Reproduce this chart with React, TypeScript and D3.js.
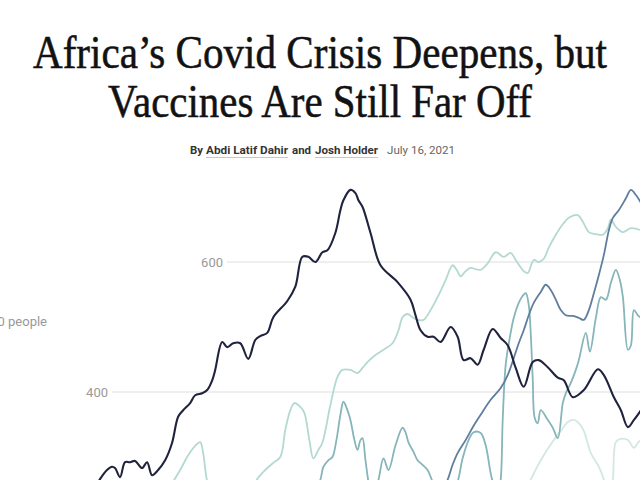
import React from "react";
import * as d3 from "d3";

// Headline and byline
const titleLines = ["Africa’s Covid Crisis Deepens, but", "Vaccines Are Still Far Off"];
const byline = { by: "By", authorA: "Abdi Latif Dahir", and: "and", authorB: "Josh Holder", date: "July 16, 2021" };

// Axis
const yTicks = [400, 600];
const yAxisLabel = "New cases per 1,000,000 people";

// Series: [days since 2020-02-01, value]
const seriesDark: [number, number][] = [
  [-6, 250], [0, 266], [7, 280], [12, 285], [15, 283], [20, 269], [25, 292], [30, 292], [35, 294],
  [42, 283], [47, 292], [52, 272], [58, 280], [65, 295], [72, 322], [78, 362], [83, 372], [90, 383],
  [95, 395], [102, 398], [107, 403], [112, 418], [115, 434], [122, 477], [127, 469], [133, 475],
  [140, 475], [148, 451], [155, 480], [160, 486], [167, 491], [173, 515], [187, 540], [195, 562],
  [202, 608], [208, 608], [215, 600], [222, 615], [227, 618], [235, 645], [240, 680], [243, 695],
  [250, 711], [255, 706], [258, 695], [262, 685], [270, 645], [280, 595], [297, 569], [310, 542],
  [315, 518], [320, 495], [327, 485], [333, 485], [340, 477], [350, 500], [357, 485], [363, 449],
  [370, 452], [377, 442], [383, 465], [392, 497], [400, 483], [407, 472], [415, 437], [423, 408],
  [432, 446], [438, 449], [447, 438], [457, 422], [463, 418], [472, 392], [483, 403], [497, 435],
  [503, 426], [513, 392], [520, 372], [527, 346], [533, 357], [540, 372],
];

const seriesLight: [number, number][] = [
  [60, 230], [80, 280], [87, 300], [95, 317], [100, 323], [103, 306], [107, 262], [115, 225],
  [135, 215], [150, 245], [157, 266], [165, 280], [173, 291], [180, 300], [185, 342], [190, 372],
  [194, 383], [200, 377], [204, 368], [209, 326], [213, 298], [218, 311], [222, 322], [230, 380],
  [237, 423], [242, 434], [250, 434], [257, 429], [262, 437], [267, 446], [275, 457], [283, 465],
  [292, 475], [298, 495], [302, 515], [307, 520], [312, 515], [317, 511], [323, 511], [330, 526],
  [337, 546], [345, 572], [352, 595], [356, 588], [360, 578], [365, 586], [370, 591], [375, 589],
  [380, 588], [387, 598], [395, 615], [403, 608], [410, 614], [415, 603], [423, 586], [427, 583],
  [433, 603], [438, 600], [443, 605], [448, 622], [455, 642], [462, 658], [468, 668], [477, 672],
  [482, 662], [488, 646], [495, 643], [502, 642], [507, 652], [510, 665], [515, 654], [522, 646],
  [530, 652], [540, 649],
];

const seriesSlate: [number, number][] = [
  [330, 220], [340, 245], [347, 265], [352, 288], [357, 306], [365, 326], [373, 348], [380, 365],
  [390, 388], [400, 406], [407, 426], [413, 452], [418, 475], [423, 495], [428, 518], [433, 537],
  [440, 554], [445, 565], [450, 557], [455, 542], [460, 526], [465, 518], [472, 517], [478, 514],
  [483, 511], [488, 526], [493, 552], [498, 580], [503, 611], [508, 649], [512, 668], [518, 680],
  [525, 698], [530, 711], [535, 703], [540, 691],
];

const seriesTeal: [number, number][] = [
  [210, 230], [220, 265], [223, 285], [228, 295], [232, 300], [236, 326], [240, 365], [243, 385],
  [247, 372], [250, 357], [254, 326], [257, 311], [260, 326], [262, 329], [265, 295], [268, 262],
  [272, 235], [278, 265], [283, 298], [288, 280], [295, 318], [302, 345], [305, 338], [308, 322],
  [313, 308], [317, 295], [322, 288], [327, 280], [332, 262], [340, 235], [350, 240], [357, 262],
  [362, 298], [368, 326], [373, 338], [380, 337], [385, 318], [390, 275], [394, 250], [397, 240],
  [400, 265], [402, 357], [405, 442], [409, 483], [413, 514], [418, 537], [422, 548], [425, 552],
  [428, 534], [430, 490], [432, 420], [434, 360], [437, 352], [440, 372], [447, 357], [452, 345],
  [457, 329], [462, 383], [465, 398], [470, 414], [475, 434], [478, 449], [485, 491], [489, 462],
  [495, 514], [500, 546], [505, 542], [510, 568], [515, 588], [519, 572], [522, 546], [527, 465],
  [530, 472], [533, 526], [537, 518], [540, 514],
];

const seriesPale: [number, number][] = [
  [420, 230], [430, 265], [440, 295], [453, 326], [460, 340], [467, 354], [473, 357], [478, 352],
  [483, 340], [490, 306], [498, 285], [503, 265], [506, 235], [509, 240], [512, 265], [515, 323],
  [520, 328], [527, 326], [533, 314], [537, 322], [540, 326],
];

const seriesList = [
  { key: "pale", data: seriesPale, color: "#d3e8e3", width: 1.8 },
  { key: "light", data: seriesLight, color: "#b3d9d2", width: 1.8 },
  { key: "teal", data: seriesTeal, color: "#86b5ba", width: 1.8 },
  { key: "slate", data: seriesSlate, color: "#5f7e9d", width: 1.8 },
  { key: "dark", data: seriesDark, color: "#20233d", width: 2.1 },
];

const START = Date.UTC(2020, 1, 1);
const toDate = (day: number) => new Date(START + day * 864e5);

export default function App() {
  const width = 640;
  const height = 480;

  const x = d3
    .scaleUtc()
    .domain([new Date(Date.UTC(2020, 1, 1)), new Date(Date.UTC(2021, 7, 31))])
    .range([100, 678]);
  const y = d3.scaleLinear().domain([0, 800]).range([652, 132]);

  // tick labels step to the right as values rise
  const gridStart = d3.scaleLinear().domain([400, 600]).range([112, 227]);

  const line = d3
    .line<[number, number]>()
    .x((d) => x(toDate(d[0])))
    .y((d) => y(d[1]))
    .curve(d3.curveCatmullRom.alpha(0.5));

  const sans = "Roboto, 'Liberation Sans', Arial, sans-serif";
  const serif = "'Liberation Serif', 'Times New Roman', serif";

  return (
    <svg
      width={width}
      height={height}
      style={{ position: "absolute", left: 0, top: 0, background: "#fff" }}
    >
      <rect width={width} height={height} fill="#fff" />

      {/* Headline */}
      <g fontFamily={serif} fontSize={47} fill="#121212" stroke="#121212" strokeWidth={0.55}>
        <text x={320} y={68} textAnchor="middle" textLength={574} lengthAdjust="spacingAndGlyphs">
          {titleLines[0]}
        </text>
        <text x={320} y={117} textAnchor="middle" textLength={424} lengthAdjust="spacingAndGlyphs">
          {titleLines[1]}
        </text>
      </g>

      {/* Byline */}
      <g fontFamily={sans} fontSize={11.5} fontWeight={700} fill="#333">
        <text x={190} y={154} textLength={13} lengthAdjust="spacingAndGlyphs">{byline.by}</text>
        <text x={206} y={154} textLength={82} lengthAdjust="spacingAndGlyphs">{byline.authorA}</text>
        <text x={292} y={154} textLength={19} lengthAdjust="spacingAndGlyphs">{byline.and}</text>
        <text x={315} y={154} textLength={63} lengthAdjust="spacingAndGlyphs">{byline.authorB}</text>
      </g>
      <line x1={206} x2={288} y1={157.5} y2={157.5} stroke="#c8c8c8" strokeWidth={1} />
      <line x1={315} x2={378} y1={157.5} y2={157.5} stroke="#c8c8c8" strokeWidth={1} />
      <text
        x={387}
        y={154}
        fontFamily={sans}
        fontSize={11}
        fill="#666"
        textLength={68}
        lengthAdjust="spacingAndGlyphs"
      >
        {byline.date}
      </text>

      {/* Y axis label */}
      <text x={47} y={326} textAnchor="end" fontFamily={sans} fontSize={13} fill="#999">
        {yAxisLabel}
      </text>

      {/* Gridlines and tick labels */}
      {yTicks.map((t) => (
        <g key={t}>
          <line
            x1={gridStart(t)}
            x2={width}
            y1={y(t)}
            y2={y(t)}
            stroke="#dedede"
            strokeWidth={1}
          />
          <text
            x={gridStart(t) - 4}
            y={y(t)}
            dy="0.35em"
            textAnchor="end"
            fontFamily={sans}
            fontSize={13}
            fill="#999"
          >
            {t}
          </text>
        </g>
      ))}

      {/* Lines */}
      {seriesList.map((s) => (
        <path
          key={s.key}
          d={line(s.data) ?? ""}
          fill="none"
          stroke={s.color}
          strokeWidth={s.width}
          strokeLinejoin="round"
          strokeLinecap="round"
        />
      ))}
    </svg>
  );
}
